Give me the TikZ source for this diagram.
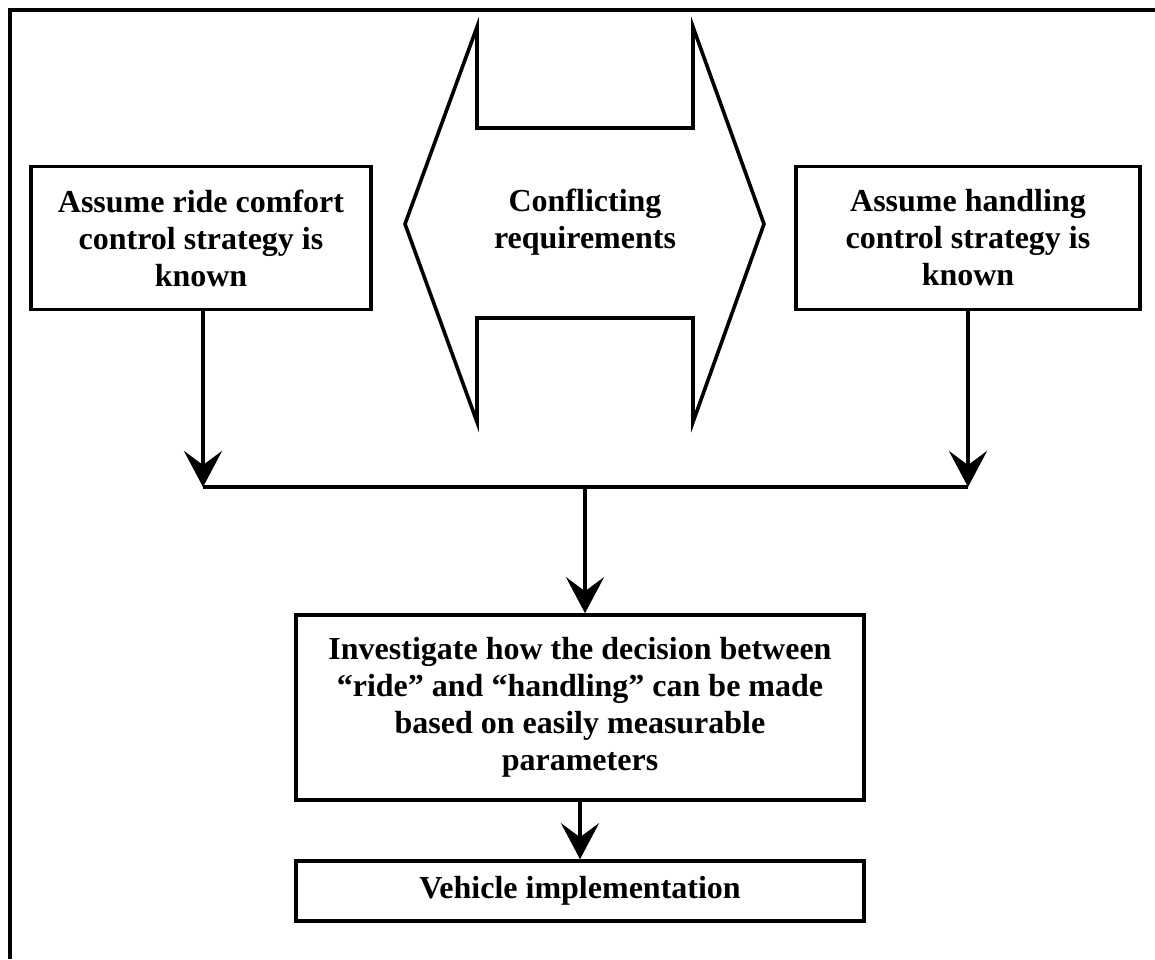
\documentclass[tikz,border=0pt]{standalone}
\usepackage{fontspec}
\setmainfont{Liberation Serif}
\usetikzlibrary{arrows.meta,positioning}

\tikzset{
  stepbox/.style={draw, line width=1.8pt, align=center, inner sep=0pt,
    font=\bfseries\fontsize{16}{18.5}\selectfont},
  flow/.style={line width=1.8pt, -{Stealth[length=18pt,width=19pt,inset=7pt]}},
}

\begin{document}
\begin{tikzpicture}[x=0.5pt,y=-0.5pt]
  \useasboundingbox (0,0) rectangle (1155,959);
  \draw[line width=2.2pt] (10,959) -- (10,10) -- (1155,10);

  \node[stepbox, minimum width=170pt, minimum height=71.5pt] (ride) at (201,238)
    {Assume ride comfort\\control strategy is\\known};
  \node[stepbox, minimum width=172pt, minimum height=71.5pt] (handling) at (968,238)
    {Assume handling\\control strategy is\\known};

  % double arrow between the two strategies
  \draw[line width=1.8pt] (477,27) -- (477,128) -- (693,128) -- (693,27) -- (764,224)
    -- (693,422) -- (693,318) -- (477,318) -- (477,422) -- (405,224) -- cycle;
  \node[align=center, font=\bfseries\fontsize{16}{18.5}\selectfont] (conflict) at (585,222)
    {Conflicting\\requirements};

  \node[stepbox, minimum width=284pt, minimum height=92.5pt] (decide) at (580,707.5)
    {Investigate how the decision between\\“ride” and “handling” can be made\\based on easily measurable\\parameters};
  \node[stepbox, minimum width=284pt, minimum height=30pt] (vehicle) at (580,891)
    {Vehicle implementation};

  \coordinate (joinL) at (203,487);
  \coordinate (joinR) at (968,487);
  \coordinate (joinM) at (585,487);

  \draw[flow] (ride.south -| joinL) -- (joinL);
  \draw[flow] (handling.south) -- (joinR);
  \draw[line width=1.8pt] (joinL) -- (joinR);
  \draw[flow] (joinM) -- (joinM |- decide.north);
  \draw[flow] (decide.south) -- (vehicle.north);
\end{tikzpicture}
\end{document}
